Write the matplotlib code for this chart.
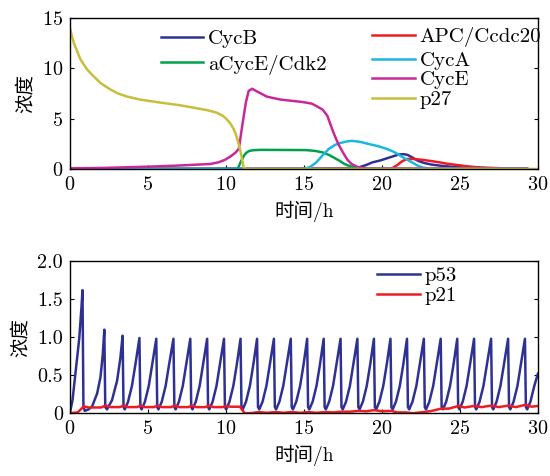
import matplotlib
matplotlib.use("Agg")
import matplotlib.pyplot as plt

plt.rcParams['font.family'] = ['cmr10', 'Noto Sans CJK SC']
plt.rcParams['axes.formatter.use_mathtext'] = True

# ---------------------------
# Top panel data (cell-cycle proteins)
# ---------------------------
p27_t = [0, 0.26, 0.68, 1.1, 1.53, 2.0, 2.6, 3.1, 3.66, 4.5, 5.8, 7.0, 7.9, 8.8, 9.4, 9.8, 10.05, 10.3, 10.5, 10.65, 10.8, 10.9, 11.0, 11.08, 11.15, 11.3, 30]
p27_v = [14.0, 12.5, 10.9, 9.9, 9.2, 8.5, 7.9, 7.5, 7.2, 6.9, 6.6, 6.35, 6.1, 5.85, 5.6, 5.3, 4.95, 4.5, 3.96, 3.4, 2.6, 2.0, 1.3, 0.6, 0.1, 0.0, 0.0]

cyce_t = [0, 2.0, 3.4, 5.0, 6.8, 8.0, 9.0, 9.5, 9.93, 10.3, 10.6, 10.83, 11.05, 11.28, 11.46, 11.68, 12.0, 12.63, 13.5, 14.9, 15.5, 15.8, 16.2, 16.5, 16.9, 17.2, 17.5, 17.8, 18.05, 18.5, 19.0, 29.3]
cyce_v = [0.07, 0.1, 0.16, 0.23, 0.33, 0.42, 0.5, 0.65, 0.9, 1.25, 1.6, 2.0, 4.3, 6.6, 7.75, 7.98, 7.7, 7.19, 6.9, 6.66, 6.5, 6.26, 5.9, 5.3, 3.6, 2.5, 1.65, 0.9, 0.5, 0.15, 0.05, 0.0]

acyce_t = [0, 10.7, 10.8, 10.95, 11.15, 11.3, 11.5, 11.8, 12.2, 15.1, 15.7, 16.2, 16.6, 16.9, 17.3, 17.6, 18.0, 18.3, 19.0, 29.3]
acyce_v = [0.0, 0.0, 0.16, 0.7, 1.3, 1.6, 1.8, 1.87, 1.9, 1.88, 1.8, 1.65, 1.4, 1.15, 0.8, 0.5, 0.25, 0.15, 0.05, 0.0]

cyca_t = [0, 15.0, 15.4, 15.8, 16.2, 16.6, 17.0, 17.3, 17.7, 18.05, 18.6, 19.2, 19.8, 20.3, 20.7, 21.0, 21.3, 21.65, 22.0, 22.3, 22.6, 23.0, 29.3]
cyca_v = [0.0, 0.0, 0.2, 0.66, 1.35, 2.0, 2.4, 2.57, 2.72, 2.8, 2.7, 2.47, 2.25, 2.0, 1.75, 1.5, 1.2, 0.9, 0.6, 0.33, 0.15, 0.05, 0.0]

cycb_t = [0, 18.0, 18.5, 19.0, 19.4, 19.9, 20.3, 20.7, 21.1, 21.4, 21.65, 22.0, 22.3, 22.7, 23.2, 23.8, 24.4, 25.1, 25.9, 27.0, 28.6, 29.3]
cycb_v = [0.0, 0.05, 0.15, 0.4, 0.66, 0.85, 1.05, 1.25, 1.45, 1.47, 1.4, 1.1, 0.82, 0.6, 0.43, 0.32, 0.23, 0.16, 0.1, 0.07, 0.05, 0.04]

apc_t = [0, 20.6, 20.75, 21.0, 21.2, 21.4, 21.65, 22.0, 22.55, 23.1, 23.7, 24.2, 24.8, 25.3, 25.9, 26.5, 27.1, 28.2, 29.3]
apc_v = [0.0, 0.0, 0.16, 0.4, 0.66, 0.85, 1.0, 1.0, 0.92, 0.8, 0.66, 0.52, 0.4, 0.3, 0.2, 0.14, 0.1, 0.05, 0.03]

# ---------------------------
# Bottom panel data (p53 / p21)
# ---------------------------
p53_t = [0, 0.17, 0.38, 0.6, 0.75, 0.81, 0.87, 0.95, 1.2, 1.43, 1.75, 1.96, 2.11, 2.21,
         2.27, 2.38, 2.7, 3.03, 3.24, 3.38,
         3.44, 3.52, 3.73, 3.98, 4.20, 4.46,
         4.52, 4.60, 4.81, 5.06, 5.28, 5.54,
         5.60, 5.68, 5.89, 6.14, 6.36, 6.64,
         6.70, 6.78, 6.99, 7.24, 7.46, 7.72,
         7.78, 7.86, 8.07, 8.32, 8.54, 8.80,
         8.86, 8.94, 9.15, 9.40, 9.62, 9.88,
         9.94, 10.02, 10.23, 10.48, 10.70, 10.94,
         11.00, 11.08, 11.29, 11.54, 11.76, 12.00,
         12.06, 12.14, 12.35, 12.60, 12.82, 13.08,
         13.14, 13.22, 13.43, 13.68, 13.90, 14.16,
         14.22, 14.30, 14.51, 14.76, 14.98, 15.21,
         15.27, 15.35, 15.56, 15.81, 16.03, 16.27,
         16.33, 16.41, 16.62, 16.87, 17.09, 17.35,
         17.41, 17.49, 17.70, 17.95, 18.17, 18.43,
         18.49, 18.57, 18.78, 19.03, 19.25, 19.49,
         19.55, 19.63, 19.84, 20.09, 20.31, 20.55,
         20.61, 20.69, 20.90, 21.15, 21.37, 21.61,
         21.67, 21.75, 21.96, 22.21, 22.43, 22.69,
         22.75, 22.83, 23.04, 23.29, 23.51, 23.77,
         23.83, 23.91, 24.12, 24.37, 24.59, 24.83,
         24.89, 24.97, 25.18, 25.43, 25.65, 25.91,
         25.97, 26.05, 26.26, 26.51, 26.73, 27.00,
         27.06, 27.14, 27.35, 27.60, 27.82, 28.09,
         28.15, 28.23, 28.44, 28.69, 28.91, 29.17,
         29.23, 29.31, 29.52, 29.77, 30.0]
p53_v = [0.0, 0.17, 0.56, 0.98, 1.41, 1.62, 0.1, 0.03, 0.05, 0.09, 0.26, 0.47, 0.77, 1.1,
         0.08, 0.05, 0.17, 0.43, 0.73, 1.02,
         0.08, 0.05, 0.15, 0.36, 0.64, 0.99,
         0.08, 0.05, 0.15, 0.36, 0.64, 0.98,
         0.08, 0.05, 0.15, 0.36, 0.64, 0.98,
         0.08, 0.05, 0.15, 0.36, 0.64, 0.98,
         0.08, 0.05, 0.15, 0.36, 0.64, 0.98,
         0.08, 0.05, 0.15, 0.36, 0.64, 0.98,
         0.08, 0.05, 0.15, 0.36, 0.64, 0.98,
         0.08, 0.05, 0.15, 0.36, 0.64, 0.98,
         0.08, 0.05, 0.15, 0.36, 0.64, 0.98,
         0.08, 0.05, 0.15, 0.36, 0.64, 0.98,
         0.08, 0.05, 0.15, 0.36, 0.64, 0.98,
         0.08, 0.05, 0.15, 0.36, 0.64, 0.98,
         0.08, 0.05, 0.15, 0.36, 0.64, 0.98,
         0.08, 0.05, 0.15, 0.36, 0.64, 0.98,
         0.08, 0.05, 0.15, 0.36, 0.64, 0.98,
         0.08, 0.05, 0.15, 0.36, 0.64, 0.98,
         0.08, 0.05, 0.15, 0.36, 0.64, 0.98,
         0.08, 0.05, 0.15, 0.36, 0.64, 0.98,
         0.08, 0.05, 0.15, 0.36, 0.64, 0.98,
         0.08, 0.05, 0.15, 0.36, 0.64, 0.98,
         0.08, 0.05, 0.15, 0.36, 0.64, 0.98,
         0.08, 0.05, 0.15, 0.36, 0.64, 0.98,
         0.08, 0.05, 0.15, 0.36, 0.64, 0.98,
         0.08, 0.05, 0.15, 0.36, 0.64, 0.98,
         0.08, 0.05, 0.15, 0.36, 0.52]

p21_t = [0, 0.5, 0.9, 1.2, 2.0, 2.3, 2.6, 3.2, 3.45, 3.7, 4.3, 4.55, 4.8, 5.4, 5.6, 5.9,
         6.5, 6.7, 7.0, 7.6, 7.8, 8.1, 8.7, 8.9, 9.2, 9.8, 10.0, 10.3, 10.9, 11.2,
         11.6, 12.1, 12.6, 13.2, 13.7, 14.2, 14.8, 15.3, 15.8, 16.4, 16.9, 17.4, 18.0,
         18.5, 19.0, 19.5, 20.0, 20.6, 21.0, 21.5, 22.0, 22.7, 23.2, 23.8, 24.3, 24.9,
         25.3, 25.9, 26.4, 27.0, 27.5, 28.1, 28.6, 29.2, 29.6, 30]
p21_v = [0.0, 0.01, 0.09, 0.075, 0.075, 0.1, 0.08, 0.08, 0.1, 0.08, 0.08, 0.1, 0.08, 0.08, 0.1, 0.08,
         0.08, 0.1, 0.08, 0.08, 0.1, 0.08, 0.08, 0.1, 0.08, 0.08, 0.095, 0.085, 0.085, 0.0,
         0.0, 0.015, 0.005, 0.015, 0.005, 0.015, 0.005, 0.015, 0.005, 0.015, 0.01, 0.02, 0.02,
         0.03, 0.025, 0.04, 0.025, 0.03, 0.01, 0.01, 0.0, 0.015, 0.03, 0.06, 0.06, 0.095,
         0.075, 0.095, 0.08, 0.1, 0.08, 0.1, 0.08, 0.11, 0.085, 0.095]

c_blue = '#2e3192'
c_green = '#00a14b'
c_red = '#ed1c24'
c_cyan = '#1ab7e0'
c_mag = '#c8289a'
c_olive = '#c9bd3c'

fig = plt.figure(figsize=(5.5, 4.76), dpi=100)
ax1 = fig.add_axes([0.127, 0.645, 0.851, 0.317])
ax2 = fig.add_axes([0.127, 0.132, 0.851, 0.319])

lw = 1.8


# legend entry: short line + label, positioned in axes fractions
def legend_entry(ax, x0, x1, y, color, text):
    ax.plot([x0, x1], [y, y], color=color, lw=lw, transform=ax.transAxes, clip_on=False)
    ax.text(x1 + 0.01, y, text, transform=ax.transAxes, fontsize=15,
            ha='left', va='center_baseline')


ax1.plot(cycb_t, cycb_v, color=c_blue, lw=lw)
ax1.plot(apc_t, apc_v, color=c_red, lw=lw)
ax1.plot(acyce_t, acyce_v, color=c_green, lw=lw)
ax1.plot(cyca_t, cyca_v, color=c_cyan, lw=lw)
ax1.plot(cyce_t, cyce_v, color=c_mag, lw=lw)
ax1.plot(p27_t, p27_v, color=c_olive, lw=lw)

legend_entry(ax1, 0.194, 0.285, 0.877, c_blue, 'CycB')
legend_entry(ax1, 0.194, 0.285, 0.707, c_green, 'aCycE/Cdk2')
legend_entry(ax1, 0.645, 0.737, 0.888, c_red, 'APC/Ccdc20')
legend_entry(ax1, 0.645, 0.737, 0.729, c_cyan, 'CycA')
legend_entry(ax1, 0.645, 0.737, 0.601, c_mag, 'CycE')
legend_entry(ax1, 0.645, 0.737, 0.469, c_olive, 'p27')

ax2.plot(p53_t, p53_v, color=c_blue, lw=lw)
ax2.plot(p21_t, p21_v, color=c_red, lw=lw)

legend_entry(ax2, 0.656, 0.748, 0.917, c_blue, 'p53')
legend_entry(ax2, 0.656, 0.748, 0.785, c_red, 'p21')

ax1.set_xlim(0, 30)
ax1.set_ylim(0, 15)
ax1.set_yticks([0, 5, 10, 15])
ax2.set_xlim(0, 30)
ax2.set_ylim(0, 2.0)
ax2.set_yticks([0, 0.5, 1.0, 1.5, 2.0], ['0', '0.5', '1.0', '1.5', '2.0'])

for ax in (ax1, ax2):
    ax.set_xticks([0, 5, 10, 15, 20, 25, 30])
    ax.tick_params(direction='in', right=True, top=False, labelsize=14.5, length=3, width=0.8)
    ax.tick_params(axis='x', pad=5)
    ax.tick_params(axis='y', pad=5)
    ax.set_xlabel('时间/h', fontsize=14, labelpad=5)
    ax.set_ylabel('浓度', fontsize=14, labelpad=5)
    for s in ax.spines.values():
        s.set_linewidth(1.0)

plt.savefig('out.png', dpi=100)
